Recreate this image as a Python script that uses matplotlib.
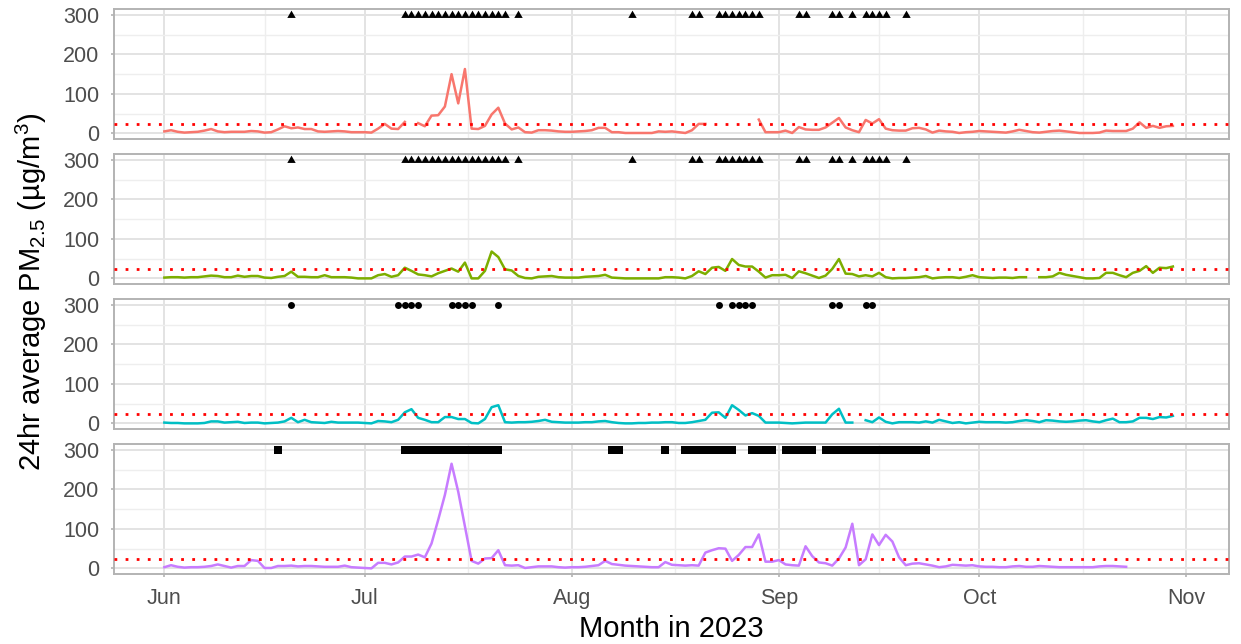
import numpy as np
import pandas as pd
import matplotlib
matplotlib.use("Agg")
import matplotlib.pyplot as plt
import matplotlib.dates as mdates
import matplotlib.ticker as mticker
from matplotlib.path import Path

plt.rcParams['font.family'] = 'Liberation Sans'
plt.rcParams['mathtext.fontset'] = 'custom'
plt.rcParams['mathtext.rm'] = 'Liberation Sans'
plt.rcParams['mathtext.it'] = 'Liberation Sans:italic'

nan = np.nan

## Data: daily 24 hr average PM2.5, starting 1 June 2023
start = "2023-06-01"

pm_a = [5, 8, 4, 2, 3, 4, 7, 11, 5, 3,
        4, 4, 4, 6, 5, 2, 3, 10, 18, 13,
        15, 11, 11, 5, 4, 5, 6, 5, 3, 3,
        3, 2, 12, 24, 12, 11, 29, nan, 26, 18,
        45, 46, 68, 150, 76, 163, 12, 11, 19, 48,
        65, 25, 10, 15, 3, 2, 8, 8, 7, 5,
        4, 4, 5, 6, 8, 14, 14, 3, 3, 1,
        1, 1, 1, 1, 5, 4, 5, 3, 1, 8,
        24, 24, nan, nan, nan, nan, nan, nan, nan, 35,
        3, 3, 3, 7, 1, 16, 10, 9, 9, 15,
        27, 39, 15, 8, 3, 34, 25, 36, 12, 8,
        7, 7, 13, 14, 10, 2, 7, 5, 4, 1,
        3, 4, 6, 5, 4, 3, 2, 5, 9, 6,
        3, 2, 4, 6, 7, 5, 3, 1, 1, 1,
        2, 7, 6, 6, 6, 12, 28, 14, 19, 14,
        18, 19]

pm_b = [2, 3, 3, 2, 3, 3, 5, 7, 6, 3,
        3, 7, 4, 6, 6, 2, 1, 4, 6, 17,
        4, 4, 3, 3, 8, 3, 3, 3, 2, 0,
        0, 0, 8, 11, 4, 8, 27, 19, 10, 8,
        5, 13, 19, 25, 17, 40, 0, 0, 19, 68,
        54, 23, 20, 6, 1, 0, 4, 5, 6, 3,
        2, 2, 2, 4, 5, 6, 9, 2, 1, 0,
        0, 0, 0, 0, 0, 3, 3, 2, 0, 6,
        18, 11, 27, 29, 19, 49, 34, 30, 30, 17,
        2, 8, 8, 9, 1, 18, 13, 7, 1, 7,
        24, 49, 12, 11, 5, 8, 5, 14, 3, 0,
        1, 1, 2, 3, 6, 0, 2, 3, 3, 1,
        4, 8, 3, 2, 1, 2, 2, 1, 3, 3,
        nan, 3, 3, 5, 14, 9, 6, 3, 0, 0,
        1, 14, 14, 8, 3, 14, 19, 31, 14, 27,
        26, 30]

pm_c = [2, 1, 1, 0, 0, 0, 1, 5, 5, 2,
        3, 4, 1, 2, 2, 0, 1, 2, 5, 14,
        3, 9, 3, 2, 1, 4, 2, 2, 2, 2,
        1, 0, 6, 5, 3, 9, 28, 36, 14, 9,
        3, 3, 16, 16, 11, 11, 1, 0, 11, 41,
        46, 3, 2, 3, 3, 4, 6, 9, 4, 3,
        2, 2, 2, 3, 3, 5, 6, 3, 1, 0,
        0, 1, 1, 2, 2, 3, 3, 1, 1, 3,
        6, 9, 27, 28, 14, 46, 34, 20, 26, 19,
        2, 2, 2, 1, 0, 1, 2, 2, 2, 2,
        23, 37, 2, 2, nan, 8, 3, 15, 4, 0,
        3, 3, 3, 2, 5, 2, 9, 5, 1, 3,
        0, 2, 4, 3, 3, 3, 2, 3, 6, 8,
        6, 3, 8, 7, 5, 4, 5, 7, 8, 5,
        3, 8, 12, 3, 3, 5, 14, 14, 11, 16,
        15, 19]

pm_d = [3, 8, 4, 2, 3, 3, 4, 6, 10, 6,
        2, 6, 6, 21, 19, 1, 1, 6, 6, 7,
        5, 6, 6, 5, 4, 4, 4, 7, 3, 2,
        1, 0, 14, 14, 10, 15, 30, 30, 35, 28,
        63, 123, 186, 265, 194, 106, 19, 12, 25, 26,
        46, 8, 7, 8, 1, 3, 5, 5, 5, 3,
        2, 3, 3, 4, 6, 8, 19, 11, 9, 7,
        6, 5, 4, 3, 3, 16, 9, 8, 7, 8,
        7, 40, 46, 51, 50, 19, 34, 54, 54, 86,
        17, 17, 21, 10, 8, 7, 56, 31, 15, 13,
        7, 25, 53, 113, 8, 23, 86, 59, 85, 68,
        28, 8, 12, 13, 10, 7, 3, 5, 9, 8,
        7, 8, 5, 4, 4, 3, 3, 5, 6, 4,
        4, 6, 5, 4, 3, 3, 3, 3, 3, 3,
        5, 6, 6, 5, 4, nan, nan, nan, nan, nan,
        nan, nan]

# event days (days since 1 June) shown along the top of each panel
days_tri = [19, 36, 37, 38, 39, 40, 41, 42, 43, 44, 45, 46, 47, 48, 49, 50, 51,
            53, 70, 79, 80, 83, 84, 85, 86, 87, 88, 89, 95, 96, 100, 101, 103,
            105, 106, 107, 108, 111]
days_dot = [19, 35, 36, 37, 38, 43, 44, 45, 46, 50, 83, 85, 86, 87, 88,
            100, 101, 105, 106]
days_sq = [17, 36, 37, 38, 39, 40, 41, 42, 43, 44, 45, 46, 47, 48, 49, 50,
           67, 68, 75, 78, 79, 80, 81, 82, 83, 84, 85, 88, 89, 90, 91,
           93, 94, 95, 96, 97, 99, 100, 101, 102, 103, 104, 105, 106, 107,
           108, 109, 110, 111, 112, 113, 114]

threshold = 25
event_level = 300

# squat (equilateral) triangle like ggplot's shape 17
tri = Path([(-1, -0.577), (1, -0.577), (0, 1.155), (-1, -0.577)],
           [Path.MOVETO, Path.LINETO, Path.LINETO, Path.CLOSEPOLY])

colors = ["#F8766D", "#7CAE00", "#00BFC4", "#C77CFF"]
series = [pm_a, pm_b, pm_c, pm_d]
events = [(days_tri, tri, 7.0), (days_tri, tri, 7.0), (days_dot, "o", 5.0), (days_sq, "s", 5.2)]

dates = pd.date_range(start, periods=len(pm_a), freq="D")
t0 = pd.Timestamp(start)

W, H = 1241, 644
fig = plt.figure(figsize=(W / 100, H / 100), dpi=100)

x0, x1 = 113.6, 1229.0
ph = 130.3
month_starts = pd.date_range("2023-06-01", "2023-11-01", freq="MS")
ms_num = mdates.date2num(month_starts)
minor_num = (ms_num[:-1] + ms_num[1:]) / 2

for i in range(4):
    top = 9 + 145 * i
    ax = fig.add_axes([x0 / W, 1 - (top + ph) / H, (x1 - x0) / W, ph / H])
    ax.plot(dates, series[i], color=colors[i], lw=1.8, zorder=3)
    ax.axhline(threshold, color="red", lw=2.0, ls=(0, (1, 3)), zorder=4)
    ev_days, mk, msz = events[i]
    ev_dates = t0 + pd.to_timedelta(ev_days, unit="D")
    ax.plot(ev_dates, [event_level] * len(ev_dates), ls="none", marker=mk,
            ms=msz, color="black", mew=0, zorder=5)

    ax.set_ylim(-15, 315)
    ax.set_xlim(mdates.date2num(t0) - 7.6, mdates.date2num(t0) + 159.4)
    ax.yaxis.set_major_locator(mticker.FixedLocator([0, 100, 200, 300]))
    ax.yaxis.set_minor_locator(mticker.FixedLocator([50, 150, 250]))
    ax.xaxis.set_major_locator(mticker.FixedLocator(ms_num))
    ax.xaxis.set_minor_locator(mticker.FixedLocator(minor_num))
    ax.xaxis.set_major_formatter(mdates.DateFormatter("%b"))

    ax.grid(which="major", color="#E3E3E3", lw=1.4, zorder=0)
    ax.grid(which="minor", color="#EEEEEE", lw=1.0, zorder=0)
    ax.set_axisbelow(True)
    for s in ax.spines.values():
        s.set_color("#B3B3B3")
        s.set_linewidth(1.4)

    ax.tick_params(axis="y", which="major", length=2.2, width=1.2, color="#B3B3B3",
                   labelsize=15.5, labelcolor="#4D4D4D", pad=8)
    ax.tick_params(which="minor", length=0)
    if i < 3:
        ax.tick_params(axis="x", which="major", length=0, labelbottom=False)
    else:
        ax.tick_params(axis="x", which="major", length=2.2, width=1.2, color="#B3B3B3",
                       labelsize=15.5, labelcolor="#4D4D4D", pad=8)

fig.text(31 / W, 1 - 291.5 / H, "24hr average PM$_{\\mathregular{2.5}}$ (\u00b5g/m$^{\\mathregular{3}}$)",
         rotation=90, ha="center", va="center", fontsize=21, color="black")
fig.text((x0 + x1) / 2 / W, 1 - 629 / H, "Month in 2023", ha="center", va="center",
         fontsize=21, color="black")

fig.savefig("out.png", dpi=100)
